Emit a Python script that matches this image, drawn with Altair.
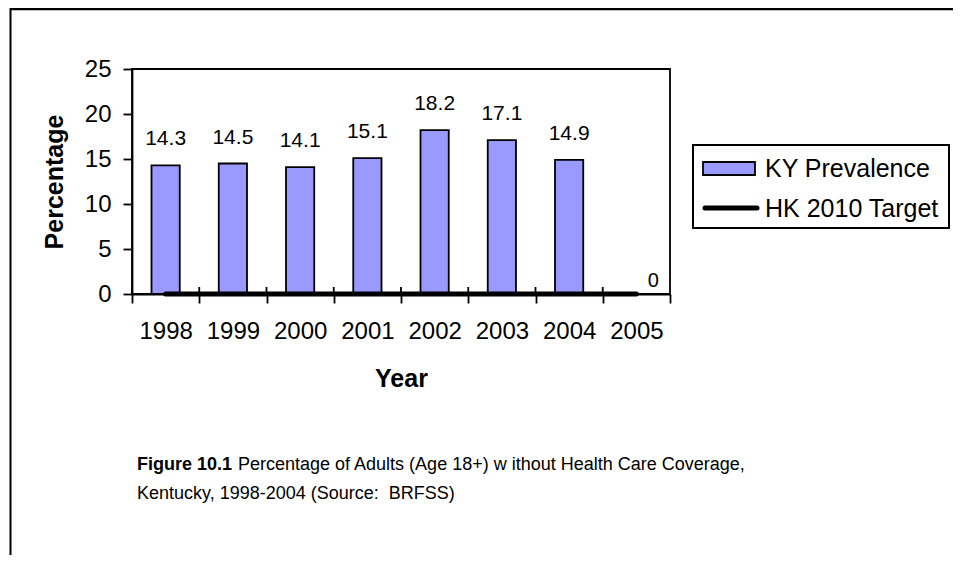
import altair as alt
import pandas as pd

years = ["1998", "1999", "2000", "2001", "2002", "2003", "2004", "2005"]
ky_prevalence = [14.3, 14.5, 14.1, 15.1, 18.2, 17.1, 14.9, None]
hk_target = [0, 0, 0, 0, 0, 0, 0, 0]
y_ticks = [0, 5, 10, 15, 20, 25]

caption_bold = "Figure 10.1"
caption_line1 = "Percentage of Adults (Age 18+) w ithout Health Care Coverage,"
caption_line2 = "Kentucky, 1998-2004 (Source:\u00a0 BRFSS)"
legend_labels = ["KY Prevalence", "HK 2010 Target"]

FONT = "Liberation Sans"
BAR_FILL = "#9999FF"

df = pd.DataFrame({"year": years, "prev": ky_prevalence, "target": hk_target})
one = pd.DataFrame({"k": [0]})

x_enc = alt.X(
    "year:N",
    sort=years,
    scale=alt.Scale(domain=years, paddingInner=0, paddingOuter=0),
    axis=alt.Axis(
        title="Year",
        labelAngle=0,
        tickBand="extent",
        tickSize=9,
        labelPadding=16,
        labelFontSize=24,
        titleFontSize=25,
        titleFontWeight="bold",
        titlePadding=23,
    ),
)
y_enc_scale = alt.Scale(domain=[0, 25], nice=False)
y_axis = alt.Axis(
    title="Percentage",
    values=y_ticks,
    tickSize=9,
    labelPadding=12,
    labelFontSize=24,
    titleFontSize=25,
    titleFontWeight="bold",
    titlePadding=17,
    grid=False,
)

bars = alt.Chart(df).transform_filter("isValid(datum.prev)").mark_bar(
    fill=BAR_FILL, stroke="black", strokeWidth=1.8, width=alt.RelativeBandSize(0.42)
).encode(x=x_enc, y=alt.Y("prev:Q", scale=y_enc_scale, axis=y_axis))

# upper half of the "cross" category ticks
inner_ticks = alt.Chart(df).mark_rule(color="black", strokeWidth=1.8).encode(
    x=alt.X("year:N", sort=years, bandPosition=0),
    y=alt.Y("target:Q"),
    y2=alt.value(218),
)

bar_labels = alt.Chart(df).transform_filter("isValid(datum.prev)").mark_text(
    fontSize=21, font=FONT, baseline="bottom", dy=-16, color="black"
).encode(x=alt.X("year:N", sort=years), y=alt.Y("prev:Q"), text=alt.Text("prev:Q", format=".1f"))

line = alt.Chart(df).mark_line(color="black", strokeWidth=5, strokeCap="round").encode(
    x=alt.X("year:N", sort=years), y=alt.Y("target:Q")
)

line_label = alt.Chart(df).transform_filter("datum.year == '2005'").mark_text(
    fontSize=20, font=FONT, dx=17, dy=-13, color="black"
).encode(x=alt.X("year:N", sort=years), y=alt.Y("target:Q"), text=alt.Text("target:Q"))

# Legend (drawn as decoration)
leg_box = alt.Chart(one).mark_rect(fill="white", stroke="black", strokeWidth=2).encode(
    x=alt.value(561), x2=alt.value(817), y=alt.value(76), y2=alt.value(159)
)
leg_sym1 = alt.Chart(one).mark_rect(fill=BAR_FILL, stroke="black", strokeWidth=1.8).encode(
    x=alt.value(571), x2=alt.value(623), y=alt.value(93), y2=alt.value(106)
)
leg_txt1 = alt.Chart(one).mark_text(fontSize=25, font=FONT, align="left", baseline="middle").encode(
    x=alt.value(633), y=alt.value(100), text=alt.value(legend_labels[0])
)
leg_sym2 = alt.Chart(one).mark_rule(color="black", strokeWidth=5, strokeCap="round").encode(
    x=alt.value(573), x2=alt.value(625), y=alt.value(139)
)
leg_txt2 = alt.Chart(one).mark_text(fontSize=25, font=FONT, align="left", baseline="middle").encode(
    x=alt.value(633), y=alt.value(140), text=alt.value(legend_labels[1])
)

# Caption
cap_b = alt.Chart(one).mark_text(fontSize=18, font=FONT, fontWeight="bold", align="left", baseline="middle").encode(
    x=alt.value(5), y=alt.value(396), text=alt.value(caption_bold)
)
cap_1 = alt.Chart(one).mark_text(fontSize=18, font=FONT, align="left", baseline="middle").encode(
    x=alt.value(106), y=alt.value(396), text=alt.value(caption_line1)
)
cap_2 = alt.Chart(one).mark_text(fontSize=18, font=FONT, align="left", baseline="middle").encode(
    x=alt.value(5), y=alt.value(425), text=alt.value(caption_line2)
)

# Outer frame lines
frame_top = alt.Chart(one).mark_rule(color="black", strokeWidth=2.5).encode(
    x=alt.value(-122), x2=alt.value(830), y=alt.value(-60)
)
frame_left = alt.Chart(one).mark_rule(color="black", strokeWidth=2).encode(
    x=alt.value(-121.5), y=alt.value(-61), y2=alt.value(500)
)

chart = alt.layer(
    frame_top, frame_left, bars, inner_ticks, line, bar_labels, line_label,
    leg_box, leg_sym1, leg_txt1, leg_sym2, leg_txt2, cap_b, cap_1, cap_2,
).properties(
    width=538,
    height=225,
    autosize=alt.AutoSizeParams(type="none"),
    padding={"left": 124, "top": 61, "right": 283, "bottom": 261},
).configure(
    font=FONT,
).configure_view(
    stroke="black", strokeWidth=1.8
).configure_axis(
    domainColor="black", tickColor="black", labelColor="black", titleColor="black",
    domainWidth=1.8, tickWidth=1.8, labelFont=FONT, titleFont=FONT,
)

chart.save("out.html", embed_options={"renderer": "svg", "actions": False})
